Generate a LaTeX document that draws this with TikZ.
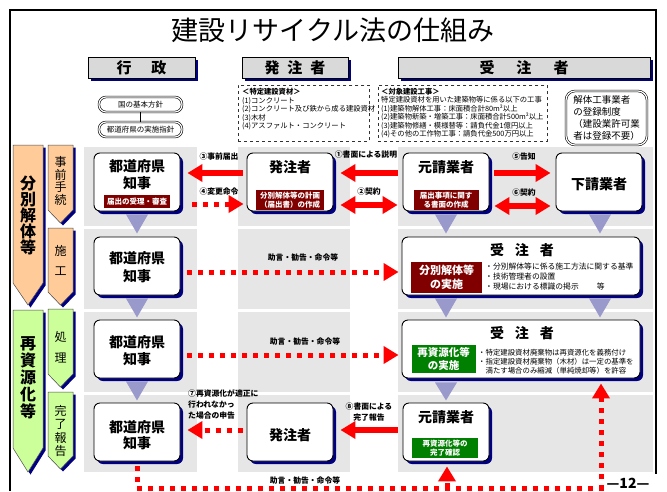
\documentclass[tikz,border=0pt]{standalone}
\usepackage{fontspec}
\setmainfont{Noto Sans CJK JP}
\usetikzlibrary{arrows.meta,shadows,calc}
\definecolor{panelgray}{HTML}{E6E6E6}
\definecolor{navyshadow}{HTML}{000080}
\definecolor{hdrgray}{HTML}{D9D9D9}
\definecolor{lblred}{HTML}{800000}
\definecolor{lblgreen}{HTML}{008000}
\definecolor{arrowred}{HTML}{FF0000}
\definecolor{trilav}{HTML}{9999CC}
\definecolor{lorange}{HTML}{FFCC99}
\definecolor{lgreen}{HTML}{CCFF99}
\begin{document}
\begin{tikzpicture}[x=1pt,y=-1pt,
  shadowed/.style={drop shadow={shadow xshift=3pt,shadow yshift=-3pt,fill=navyshadow,opacity=1}},
  panel/.style={fill=panelgray},
  card/.style={draw=black,line width=0.9pt,fill=white,rounded corners=6pt,minimum width=86pt,minimum height=58pt,inner sep=0pt,shadowed},
  widecard/.style={card,minimum width=238pt},
  hdr/.style={draw=black,line width=0.8pt,fill=hdrgray,minimum height=21pt,inner sep=0pt,font=\bfseries\fontsize{15}{15}\selectfont,shadowed},
  cardtext/.style={font=\bfseries\fontsize{14}{17}\selectfont,align=center,inner sep=0pt},
  redlbl/.style={fill=lblred,text=white,font=\bfseries\fontsize{7.5}{9}\selectfont,align=center,inner sep=0pt},
  grnlbl/.style={redlbl,fill=lblgreen},
  alabel/.style={font=\bfseries\fontsize{7.8}{11}\selectfont,align=center,inner sep=0pt},
  bullets/.style={font=\fontsize{7.8}{10}\selectfont,align=left,anchor=west,inner sep=0pt},
  sarrow/.style={color=arrowred,line width=6pt,-{Triangle[width=17pt,length=15pt]}},
  darrow/.style={color=arrowred,line width=6pt,{Triangle[width=17pt,length=15pt]}-{Triangle[width=17pt,length=15pt]}},
  dotarrow/.style={color=arrowred,line width=5pt,dash pattern=on 5pt off 6pt,-{Triangle[width=17pt,length=15pt]}},
  tri/.style={fill=trilav},
  dbox/.style={draw=black!80,dashed,line width=0.6pt},
  dtext/.style={anchor=north west,align=left,inner sep=0pt,font=\fontsize{7.3}{8.4}\selectfont},
  dblbox/.style={draw=black,double=white,double distance=1.2pt,line width=0.6pt,rounded corners=7pt,inner sep=0pt},
  oshape/.style={fill=lorange,draw=black!70,line width=0.5pt,drop shadow={shadow xshift=2.5pt,shadow yshift=-2.5pt,fill=navyshadow,opacity=1}},
  gshape/.style={oshape,fill=lgreen},
  vtext/.style={align=center,inner sep=0pt}
]
\useasboundingbox (0,0) rectangle (667,491);
\fill[white] (0,0) rectangle (667,491);

% panels
\foreach \xa/\xb in {84/197,238/350,398/653}{
  \foreach \ya/\yb in {147/226,229/309,312/392,395/472}{
    \fill[panel] (\xa,\ya) rectangle (\xb,\yb);
  }
}

% frame
\draw[line width=1.3pt] (10,491) -- (10,10) -- (656,10) -- (656,474);

% title
\node[font=\fontsize{27}{30}\selectfont,inner sep=0pt] (title) at (333,30) {建設リサイクル法の仕組み};

% headers
\node[hdr,minimum width=107pt] (h1) at (141.5,67.5) {行\hspace{20pt}政};
\node[hdr,minimum width=106pt] (h2) at (295,67.5) {発\hspace{8pt}注\hspace{8pt}者};
\node[hdr,minimum width=252pt] (h3) at (524,67.5) {受\hspace{22pt}注\hspace{22pt}者};

% administration policy boxes
\node[dblbox,minimum width=83pt,minimum height=15pt,font=\fontsize{7.5}{8}\selectfont] (pol1) at (140.5,104.5) {国の基本方針};
\node[dblbox,minimum width=83pt,minimum height=15pt,font=\fontsize{7.5}{8}\selectfont] (pol2) at (140.5,129.5) {都道府県の実施指針};
\draw[line width=1.5pt] (pol1.south) -- (pol2.north);

% dashed boxes
\node[dbox,minimum width=131pt,minimum height=56pt,anchor=north west] (dA) at (238,85) {};
\node[dtext] (dAt) at ($(dA.north west)+(4,3.5)$)
  {{\bfseries ＜特定建設資材＞}\\(1)コンクリート\\(2)コンクリート及び鉄から成る建設資材\\(3)木材\\(4)アスファルト・コンクリート};
\node[dbox,minimum width=169pt,minimum height=56pt,anchor=north west] (dB) at (378,85) {};
\node[dtext] (dBt) at ($(dB.north west)+(3,3)$)
  {{\bfseries ＜対象建設工事＞}\\特定建設資材を用いた建築物等に係る以下の工事\\(1)建築物解体工事：床面積合計80m²以上\\(2)建築物新築・増築工事：床面積合計500m²以上\\(3)建築物修繕・模様替等：請負代金1億円以上\\(4)その他の工作物工事：請負代金500万円以上};
\node[dblbox,rounded corners=9pt,minimum width=81pt,minimum height=54pt] (reg) at (606.5,118) {};
\node[align=left,inner sep=0pt,font=\fontsize{9.5}{12}\selectfont] (regt) at (reg.center) {解体工事業者\\の登録制度\\（建設業許可業\\者は登録不要）};

% left stage labels
\filldraw[oshape] (13,145) -- (43,145) -- (43,283) -- (28,305) -- (13,283) -- cycle;
\node[vtext,font=\bfseries\fontsize{16}{16}\selectfont] (bigO) at (28,215) {分\\別\\解\\体\\等};
\filldraw[oshape] (48,145) -- (73,145) -- (73,210) -- (60.5,223) -- (48,210) -- cycle;
\node[vtext,font=\fontsize{12}{12.8}\selectfont] (sO1) at (60.5,181) {事\\前\\手\\続};
\filldraw[oshape] (48,228) -- (73,228) -- (73,292) -- (60.5,305) -- (48,292) -- cycle;
\node[vtext,font=\fontsize{12}{20}\selectfont] (sO2) at (60.5,260) {施\\工};
\filldraw[gshape] (13,310) -- (43,310) -- (43,448) -- (28,472) -- (13,448) -- cycle;
\node[vtext,font=\bfseries\fontsize{16}{17}\selectfont] (bigG) at (28,378) {再\\資\\源\\化\\等};
\filldraw[gshape] (48,309) -- (73,309) -- (73,374) -- (60.5,387) -- (48,374) -- cycle;
\node[vtext,font=\fontsize{12}{21}\selectfont] (sG1) at (60.5,347) {処\\理};
\filldraw[gshape] (48,392) -- (73,392) -- (73,456) -- (60.5,469) -- (48,456) -- cycle;
\node[vtext,font=\fontsize{12}{13.3}\selectfont] (sG2) at (60.5,431) {完\\了\\報\\告};

% cards (boxes)
\node[card] (k1) at (137,182) {};
\node[card] (p1) at (290,182) {};
\node[card] (g1) at (446,182) {};
\node[card] (s1) at (599,182) {};
\node[card] (k2) at (137,266) {};
\node[widecard] (j2) at (521,266) {};
\node[card] (k3) at (137,349) {};
\node[widecard] (j3) at (521,349) {};
\node[card] (k4) at (137,432) {};
\node[card] (p4) at (290,432) {};
\node[card] (g4) at (446,432) {};

% flow triangles
\foreach \n/\dx in {k1/0,g1/0,s1/1,k2/0,k3/0}{
  \fill[tri] ($(\n.south)+(\dx-11,3)$) -- ($(\n.south)+(\dx+11,3)$) -- ($(\n.south)+(\dx,22)$) -- cycle;
}
\foreach \dx in {-75,79}{
  \fill[tri] ($(j2.south)+(\dx-11,3)$) -- ($(j2.south)+(\dx+11,3)$) -- ($(j2.south)+(\dx,22)$) -- cycle;
}
\fill[tri] ($(j3.south)+(-86,4)$) -- ($(j3.south)+(-64,4)$) -- ($(j3.south)+(-75,22)$) -- cycle;

% card texts
\node[cardtext] (k1t) at ($(k1.center)+(0,-7.5)$) {都道府県\\知事};
\node[redlbl,minimum width=66pt,minimum height=13pt] (k1l) at ($(k1.center)+(0,19.5)$) {届出の受理・審査};
\node[cardtext] (p1t) at ($(p1.center)+(0,-15)$) {発注者};
\node[redlbl,minimum width=68pt,minimum height=20pt] (p1l) at ($(p1.center)+(0,18)$) {分別解体等の計画\\（届出書）の作成};
\node[cardtext] (g1t) at ($(g1.center)+(0,-15)$) {元請業者};
\node[redlbl,minimum width=65pt,minimum height=20pt] (g1l) at ($(g1.center)+(0,18)$) {届出事項に関す\\る書面の作成};
\node[cardtext] (s1t) at ($(s1.center)+(0,2)$) {下請業者};

\node[cardtext,font=\bfseries\fontsize{14}{18}\selectfont] (k2t) at ($(k2.center)+(0,1)$) {都道府県\\知事};
\node[cardtext] (j2t) at ($(j2.center)+(1,-16)$) {受\hspace{11pt}注\hspace{11pt}者};
\node[redlbl,font=\bfseries\fontsize{11}{14}\selectfont,minimum width=71pt,minimum height=31pt] (j2l) at ($(j2.center)+(-74.5,11.5)$) {分別解体等\\の実施};
\node[bullets] (j2b) at ($(j2.center)+(-36,11)$) {・分別解体等に係る施工方法に関する基準\\・技術管理者の設置\\・現場における標識の掲示\hspace{18pt}等};

\node[cardtext] (k3t) at ($(k3.center)+(0,2)$) {都道府県\\知事};
\node[cardtext] (j3t) at ($(j3.center)+(1,-16)$) {受\hspace{11pt}注\hspace{11pt}者};
\node[grnlbl,font=\bfseries\fontsize{10.5}{13}\selectfont,minimum width=64pt,minimum height=28pt] (j3l) at ($(j3.center)+(-77.5,10)$) {再資源化等\\の実施};
\node[bullets,font=\fontsize{7.4}{9}\selectfont] (j3b) at ($(j3.center)+(-43,13)$) {・特定建設資材廃棄物は再資源化を義務付け\\・指定建設資材廃棄物（木材）は一定の基準を\\\phantom{・}満たす場合のみ縮減（単純焼却等）を許容};

\node[cardtext,font=\bfseries\fontsize{14}{16}\selectfont] (k4t) at ($(k4.center)+(0,3)$) {都道府県\\知事};
\node[cardtext] (p4t) at ($(p4.center)+(0,3)$) {発注者};
\node[cardtext] (g4t) at ($(g4.center)+(0,-15)$) {元請業者};
\node[grnlbl,minimum width=66pt,minimum height=20pt] (g4l) at ($(g4.center)+(-1,16)$) {再資源化等の\\完了確認};

% connectors row 1
\draw[sarrow] ($(p1.west)+(-4,-9)$) -- ($(k1.east)+(7,-9)$);
\draw[dotarrow] ($(k1.east)+(12,22)$) -- ($(p1.west)+(-3,22)$);
\draw[sarrow] ($(g1.west)+(-5,-9)$) -- ($(p1.east)+(7,-9)$);
\draw[darrow] ($(p1.east)+(7,23)$) -- ($(g1.west)+(-5,23)$);
\draw[sarrow] ($(g1.east)+(5,-9)$) -- ($(s1.west)+(-5,-9)$);
\draw[darrow] ($(g1.east)+(5,24)$) -- ($(s1.west)+(-5,24)$);
\node[alabel] (l3) at (219,157) {③事前届出};
\node[alabel] (l4) at (219,192) {④変更命令};
\node[alabel] (l1) at (366,155) {①書面による説明};
\node[alabel] (l2) at (369,192) {②契約};
\node[alabel] (l5) at (524,157) {⑤告知};
\node[alabel] (l6) at (524,193) {⑥契約};

% rows 2 and 3
\draw[dotarrow] ($(k2.east)+(7,6)$) -- ($(j2.west)+(-3,6)$);
\node[alabel] (la2) at (303,258) {助言・勧告・命令等};
\draw[dotarrow] ($(k3.east)+(7,6)$) -- ($(j3.west)+(-3,6)$);
\node[alabel] (la3) at (305,342) {助言・勧告・命令等};

% row 4
\draw[sarrow] ($(g4.west)+(-5,-2)$) -- ($(p4.east)+(7,-2)$);
\node[alabel] (l8) at (369,412) {⑧書面による\\完了報告};
\draw[dotarrow] ($(p4.west)+(-4,-2)$) -- ($(k4.east)+(7,-2)$);
\node[alabel,align=left,anchor=north west] (l7) at (188,389) {⑦再資源化が適正に\\行われなかっ\\た場合の申告};

% bottom loop
\coordinate (b1) at (137,488);
\coordinate (b2) at (601,488);
\coordinate (b3) at (447,488);
\draw[dotarrow] ($(k4.south)+(0,5)$) -- (b1) -- (b2) -- ($(j3.south)+(80,5)$);
\draw[dotarrow] (b3) -- ($(g4.south)+(1,5)$);
\node[alabel] (la4) at (305,481) {助言・勧告・命令等};

\node[font=\bfseries\fontsize{14}{14}\selectfont,inner sep=0pt] (pg) at (628,483) {—12—};
\end{tikzpicture}
\end{document}
